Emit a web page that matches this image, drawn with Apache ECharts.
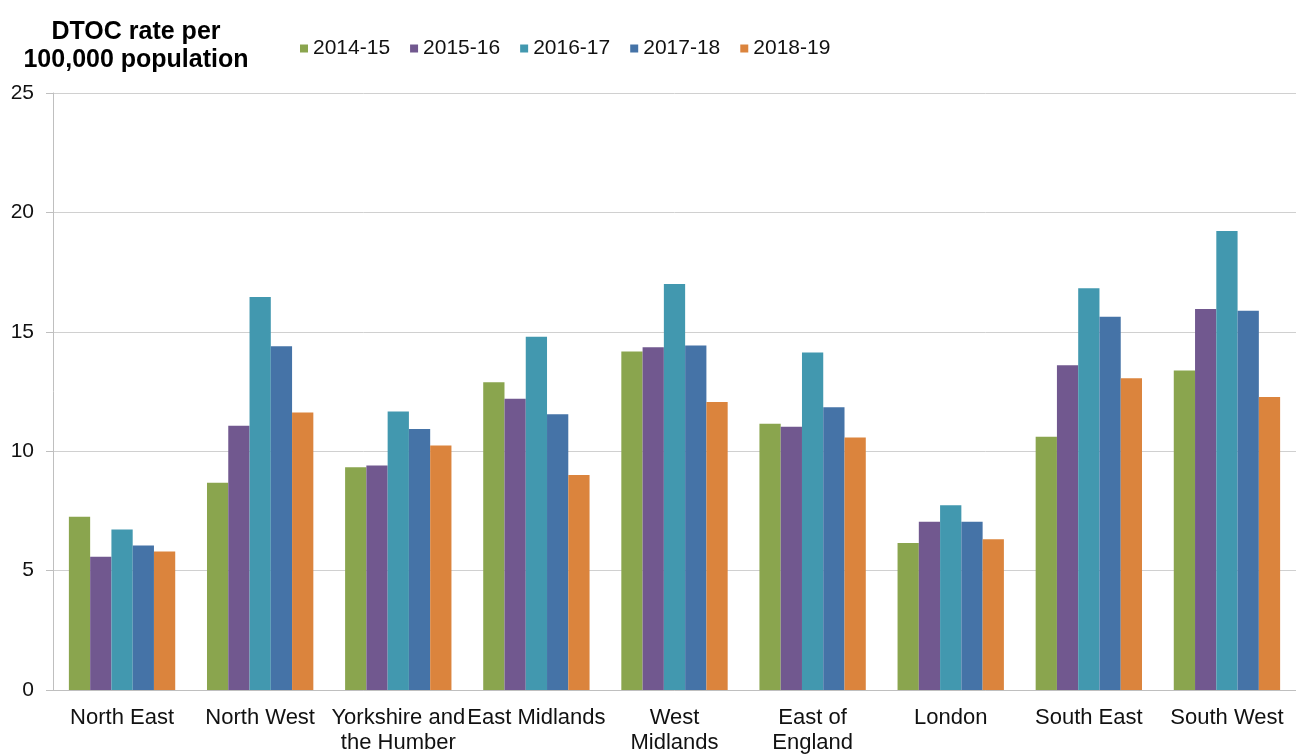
<!DOCTYPE html>
<html>
<head>
<meta charset="utf-8">
<script src="https://cdn.jsdelivr.net/npm/echarts@6/dist/echarts.min.js"></script>
<style>
  html, body { margin: 0; padding: 0; background: #fff; }
  #chart { width: 1296px; height: 755px; }
</style>
</head>
<body>
<div id="chart"></div>
<script>
// regions on the x axis
var regions = ['North East', 'North West', 'Yorkshire and\nthe Humber', 'East Midlands',
    'West\nMidlands', 'East of\nEngland', 'London', 'South East', 'South West'];

var years = ['2014-15', '2015-16', '2016-17', '2017-18', '2018-19'];

// DTOC rate per 100,000 population
var y2014 = [7.26, 8.68, 9.33, 12.89, 14.17, 11.15, 6.16, 10.61, 13.38];
var y2015 = [5.58, 11.07, 9.40, 12.20, 14.35, 11.02, 7.05, 13.60, 15.96];
var y2016 = [6.72, 16.46, 11.66, 14.79, 17.00, 14.13, 7.74, 16.82, 19.22];
var y2017 = [6.05, 14.39, 10.93, 11.55, 14.43, 11.84, 7.05, 15.63, 15.88];
var y2018 = [5.80, 11.62, 10.24, 9.00, 12.06, 10.57, 6.31, 13.05, 12.27];

var yTicks = [0, 5, 10, 15, 20, 25];

var font = '"Liberation Sans", Arial, sans-serif';
var chart = echarts.init(document.getElementById('chart'));

var seriesData = [y2014, y2015, y2016, y2017, y2018];

var opt = {
    color: ['#8aa54e', '#71588f', '#4298af', '#4573a7', '#db843d'],
    animation: false,
    title: {
        text: 'DTOC rate per\n100,000 population',
        left: 131,
        top: 13,
        textAlign: 'center',
        textStyle: {
            fontFamily: font,
            fontSize: 25,
            fontWeight: 'bold',
            color: '#000',
            lineHeight: 28
        }
    },
    legend: {
        data: years,
        left: 295,
        top: 33,
        icon: 'rect',
        itemWidth: 8,
        itemHeight: 8,
        itemGap: 20,
        textStyle: {
            fontFamily: font,
            fontSize: 21,
            color: '#111'
        }
    },
    grid: {
        left: 53,
        top: 93,
        bottom: 60,
        right: -8,
        containLabel: false
    },
    xAxis: {
        type: 'category',
        data: regions,
        axisLine: {
            lineStyle: { color: '#bfbfbf', width: 1 }
        },
        axisTick: {
            length: 8,
            lineStyle: { color: '#bfbfbf' }
        },
        axisLabel: {
            interval: 0,
            margin: 15,
            fontFamily: font,
            fontSize: 22,
            color: '#111',
            lineHeight: 25
        }
    },
    yAxis: {
        type: 'value',
        min: yTicks[0],
        max: yTicks[yTicks.length - 1],
        interval: 5,
        axisLine: {
            show: true,
            lineStyle: { color: '#bfbfbf' }
        },
        axisTick: {
            show: true,
            length: 7,
            lineStyle: { color: '#bfbfbf' }
        },
        splitLine: {
            lineStyle: { color: '#d0d0d0' }
        },
        axisLabel: {
            margin: 19,
            fontFamily: font,
            fontSize: 21,
            color: '#111'
        }
    },
    series: years.map(function (y, i) {
        return {
            name: y,
            type: 'bar',
            data: seriesData[i],
            barGap: '0%',
            barCategoryGap: '23%'
        };
    })
};

chart.setOption(opt);

window.addEventListener('resize', function () {
    chart.resize();
});
</script>
</body>
</html>
